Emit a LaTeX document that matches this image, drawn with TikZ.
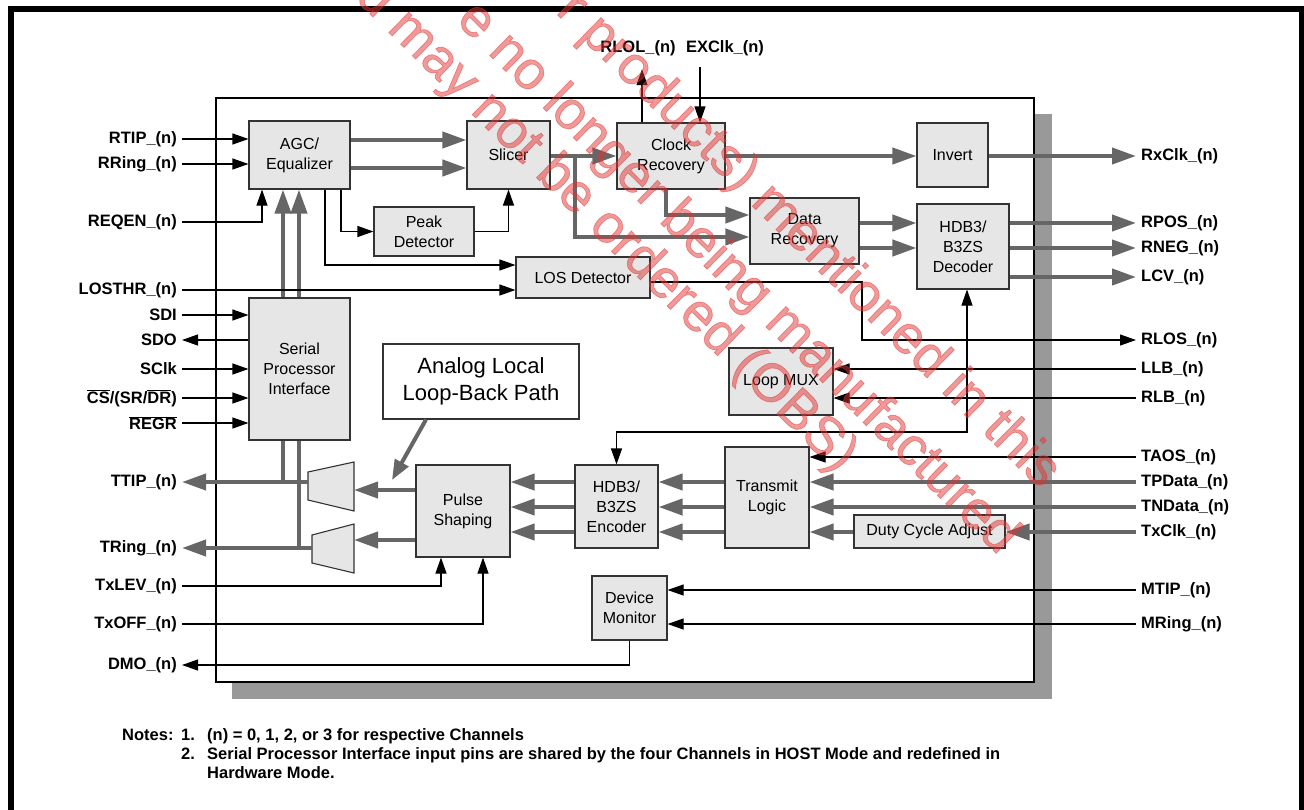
\documentclass[tikz,border=0pt]{standalone}
\usepackage{fontspec}
\setmainfont{Liberation Sans}
\newfontfamily\wmfamily[FakeBold=1.2]{Liberation Sans}
\usetikzlibrary{positioning,arrows.meta}

\newcommand{\pinfont}{\fontsize{16.5}{19}\selectfont\bfseries}
\newcommand{\blkfont}{\fontsize{16}{20}\selectfont}
\newcommand{\wmfont}{\wmfamily\fontsize{54}{60}\selectfont}
\definecolor{busgray}{RGB}{102,102,102}
\definecolor{boxfill}{RGB}{230,230,230}
\definecolor{shadowgray}{RGB}{153,153,153}
\definecolor{wmred}{RGB}{226,52,52}

\begin{document}
\begin{tikzpicture}[
  x=1pt, y=-1pt,
  >={Triangle[length=16pt,width=11pt]},
  blk/.style={draw=black!80, line width=1.1pt, fill=boxfill, align=center, font=\blkfont, inner sep=2pt},
  pinL/.style={anchor=east, font=\pinfont, inner xsep=5pt, inner ysep=0pt},
  pinR/.style={anchor=west, font=\pinfont, inner xsep=5pt, inner ysep=0pt},
  sig/.style={draw=black, line width=1.1pt},
  busline/.style={draw=busgray, line width=4pt},
  bus/.style={busline, -{Triangle[length=24pt,width=16pt]}},
  drv/.style={draw=black!80, line width=1.1pt, fill=boxfill},
  note/.style={anchor=base west, font=\pinfont, inner sep=0pt},
  wm/.style={anchor=base east, rotate=-44.5, font=\wmfont, text=wmred, opacity=0.5, inner sep=0pt}
]
  \useasboundingbox (0,0) rectangle (1304,809);
  \draw[line width=6pt] (11,830) -- (11,9) -- (1302,9) -- (1302,830);
  \fill[shadowgray] (232,114) rectangle (1052,699);
  \draw[fill=white, line width=1.2pt] (216,98) rectangle (1034,682);

  \node[blk, minimum width=101pt, minimum height=68pt] (agc) at (299.5,155) {AGC/\\Equalizer};
  \node[blk, minimum width=83pt, minimum height=68pt] (slicer) at (508.5,155) {Slicer};
  \node[blk, minimum width=108pt, minimum height=66pt] (clk) at (671,156) {Clock\\Recovery};
  \node[blk, minimum width=71pt, minimum height=64pt] (inv) at (952.5,155) {Invert};
  \node[blk, minimum width=100pt, minimum height=49pt] (peak) at (424,231.5) {Peak\\Detector};
  \node[blk, minimum width=134pt, minimum height=41pt] (los) at (583,277.5) {LOS Detector};
  \node[blk, minimum width=109pt, minimum height=66pt] (drec) at (804.5,231) {Data\\Recovery};
  \node[blk, minimum width=92pt, minimum height=85pt] (dec) at (963,246.5) {HDB3/\\B3ZS\\Decoder};
  \node[blk, minimum width=101pt, minimum height=142pt] (spi) at (299.5,369) {Serial\\Processor\\Interface};
  \node[blk, fill=white, minimum width=196pt, minimum height=75pt, font=\fontsize{22}{27}\selectfont] (alb) at (481,381.5) {Analog Local\\Loop-Back Path};
  \node[blk, minimum width=104pt, minimum height=67pt] (mux) at (781,381.5) {Loop MUX};
  \node[blk, minimum width=94pt, minimum height=92pt] (pulse) at (463,511) {Pulse\\Shaping};
  \node[blk, minimum width=83pt, minimum height=83pt] (enc) at (616.5,506.5) {HDB3/\\B3ZS\\Encoder};
  \node[blk, minimum width=84pt, minimum height=101pt] (tx) at (767,497.5) {Transmit\\Logic};
  \node[blk, minimum width=151pt, minimum height=33pt] (duty) at (929.5,531.5) {Duty Cycle Adjust};
  \node[blk, minimum width=75pt, minimum height=64pt] (dm) at (629.5,608) {Device\\Monitor};

  \draw[drv] (308,472) -- (354,462) -- (354,511) -- (308,500) -- cycle;
  \draw[drv] (312,535) -- (354,524) -- (354,573) -- (312,563) -- cycle;
  \coordinate (drvAin) at (354,490);
  \coordinate (drvAout) at (308,482);
  \coordinate (drvBin) at (354,540);
  \coordinate (drvBout) at (312,548);
  \coordinate (lbtip) at (392,480);

  \node[pinL] (rtip) at (182,139) {RTIP\_(n)};
  \node[pinL] (rring) at (182,164) {RRing\_(n)};
  \node[pinL] (reqen) at (182,222) {REQEN\_(n)};
  \node[pinL] (losthr) at (182,290) {LOSTHR\_(n)};
  \node[pinL] (sdi) at (182,315) {SDI};
  \node[pinL] (sdo) at (182,340) {SDO};
  \node[pinL] (sclk) at (182,369) {SClk};
  \node[pinL] (cs) at (182,398) {\(\overline{\mbox{CS}}\)/(SR/\(\overline{\mbox{DR}}\))};
  \node[pinL] (regr) at (182,423) {\(\overline{\mbox{REGR}}\)};
  \node[pinL] (ttip) at (182,482) {TTIP\_(n)};
  \node[pinL] (tring) at (182,548) {TRing\_(n)};
  \node[pinL] (txlev) at (182,586) {TxLEV\_(n)};
  \node[pinL] (txoff) at (182,624) {TxOFF\_(n)};
  \node[pinL] (dmo) at (182,665) {DMO\_(n)};

  \node[pinR] (rxclk) at (1136,156) {RxClk\_(n)};
  \node[pinR] (rpos) at (1136,223) {RPOS\_(n)};
  \node[pinR] (rneg) at (1136,248) {RNEG\_(n)};
  \node[pinR] (lcv) at (1136,277) {LCV\_(n)};
  \node[pinR] (rlos) at (1136,340) {RLOS\_(n)};
  \node[pinR] (llb) at (1136,369) {LLB\_(n)};
  \node[pinR] (rlb) at (1136,398) {RLB\_(n)};
  \node[pinR] (taos) at (1136,457) {TAOS\_(n)};
  \node[pinR] (tpdata) at (1136,482) {TPData\_(n)};
  \node[pinR] (tndata) at (1136,507) {TNData\_(n)};
  \node[pinR] (txclk) at (1136,532) {TxClk\_(n)};
  \node[pinR] (mtip) at (1136,590) {MTIP\_(n)};
  \node[pinR] (mring) at (1136,624) {MRing\_(n)};

  \node[font=\pinfont] (rlol) at (638,48) {RLOL\_(n)};
  \node[font=\pinfont] (exclk) at (725,48) {EXClk\_(n)};

  \draw[bus] (agc.east |- 0,140) -- (slicer.west |- 0,140);
  \draw[bus] (agc.east |- 0,168) -- (slicer.west |- 0,168);
  \draw[bus] (slicer.east |- 0,156) -- (clk.west |- 0,156);
  \draw[bus] (575,156) -- (575,237) -- (drec.west |- 0,237);
  \draw[bus] (clk.south -| 666,0) -- (666,215) -- (drec.west |- 0,215);
  \draw[bus] (clk.east |- 0,156) -- (inv.west |- 0,156);
  \draw[bus] (inv.east |- rxclk.west) -- (rxclk.west);
  \draw[bus] (drec.east |- 0,223) -- (dec.west |- 0,223);
  \draw[bus] (drec.east |- 0,248) -- (dec.west |- 0,248);
  \draw[bus] (dec.east |- rpos.west) -- (rpos.west);
  \draw[bus] (dec.east |- rneg.west) -- (rneg.west);
  \draw[bus] (dec.east |- lcv.west) -- (lcv.west);

  \draw[busline] (drvAout -| 283,0) -- (spi.south -| 283,0);
  \draw[busline] (drvBout -| 299,0) -- (spi.south -| 299,0);
  \draw[bus] (spi.north -| 283,0) -- (agc.south -| 283,0);
  \draw[bus] (spi.north -| 299,0) -- (agc.south -| 299,0);
  \draw[bus] (drvAout) -- (ttip.east);
  \draw[bus] (drvBout) -- (tring.east);
  \draw[bus] (pulse.west |- drvAin) -- (drvAin);
  \draw[bus] (pulse.west |- drvBin) -- (drvBin);
  \draw[bus, -{Triangle[length=20pt,width=15pt]}] (alb.south -| 426,0) -- (lbtip);

  \draw[bus] (enc.west |- 0,482) -- (pulse.east |- 0,482);
  \draw[bus] (enc.west |- 0,507) -- (pulse.east |- 0,507);
  \draw[bus] (enc.west |- 0,532) -- (pulse.east |- 0,532);
  \draw[bus] (tx.west |- 0,482) -- (enc.east |- 0,482);
  \draw[bus] (tx.west |- 0,507) -- (enc.east |- 0,507);
  \draw[bus] (tx.west |- 0,532) -- (enc.east |- 0,532);
  \draw[bus] (tpdata.west) -- (tx.east |- tpdata.west);
  \draw[bus] (tndata.west) -- (tx.east |- tndata.west);
  \draw[bus] (txclk.west) -- (duty.east |- txclk.west);
  \draw[bus] (duty.west |- txclk.west) -- (tx.east |- txclk.west);

  \draw[sig, ->] (rtip.east) -- (agc.west |- rtip.east);
  \draw[sig, ->] (rring.east) -- (agc.west |- rring.east);
  \draw[sig, ->] (reqen.east) -| (agc.south -| 262,0);
  \draw[sig, ->] (losthr.east) -- (los.west |- losthr.east);
  \draw[sig, ->] (agc.south -| 325,0) |- (los.west |- 0,265);
  \draw[sig, ->] (agc.south -| 341,0) |- (peak.west);
  \draw[sig, ->] (peak.east) -| (slicer.south);
  \draw[sig, ->] (sdi.east) -- (spi.west |- sdi.east);
  \draw[sig, ->] (spi.west |- sdo.east) -- (sdo.east);
  \draw[sig, ->] (sclk.east) -- (spi.west |- sclk.east);
  \draw[sig, ->] (cs.east) -- (spi.west |- cs.east);
  \draw[sig, ->] (regr.east) -- (spi.west |- regr.east);
  \draw[sig, ->] (txlev.east) -| (pulse.south -| 441,0);
  \draw[sig, ->] (txoff.east) -| (pulse.south -| 483,0);
  \draw[sig, ->] (dm.south) |- (dmo.east);
  \draw[sig, ->, shorten >=10pt] (clk.north -| 642,0) -- (rlol.south -| 642,0);
  \draw[sig, ->, shorten <=8pt] (exclk.south -| 700,0) -- (clk.north -| 700,0);
  \draw[sig, ->] (los.east |- 0,282) -| (862,340) -- (rlos.west);
  \draw[sig, <->] (dec.south -| 967,0) -- (967,432) -| (enc.north);
  \draw[sig, ->] (llb.west) -- (mux.east |- llb.west);
  \draw[sig, ->] (rlb.west) -- (mux.east |- rlb.west);
  \draw[sig, ->] (taos.west) -- (tx.east |- taos.west);
  \draw[sig, ->] (mtip.west) -- (dm.east |- mtip.west);
  \draw[sig, ->] (mring.west) -- (dm.east |- mring.west);

  \node[note] (notes) at (122,740) {Notes:};
  \node[note] (num1) at (181,740) {1.};
  \node[note] (note1) at (207,740) {(n) = 0, 1, 2, or 3 for respective Channels};
  \node[note] (num2) at (181,759) {2.};
  \node[note] (note2) at (207,759) {Serial Processor Interface input pins are shared by the four Channels in HOST Mode and redefined in};
  \node[note] (note2b) at (207,778) {Hardware Mode.};

  \begin{scope}
    \clip (0,0) rectangle (1304,809);
    \node[wm] (wmA) at (1041,490) {r products) mentioned in this};
    \node[wm] (wmB) at (999,556) {e no longer being manufactured};
    \node[wm] (wmC) at (838,474) {d may not be ordered (OBS)};
  \end{scope}
\end{tikzpicture}
\end{document}
